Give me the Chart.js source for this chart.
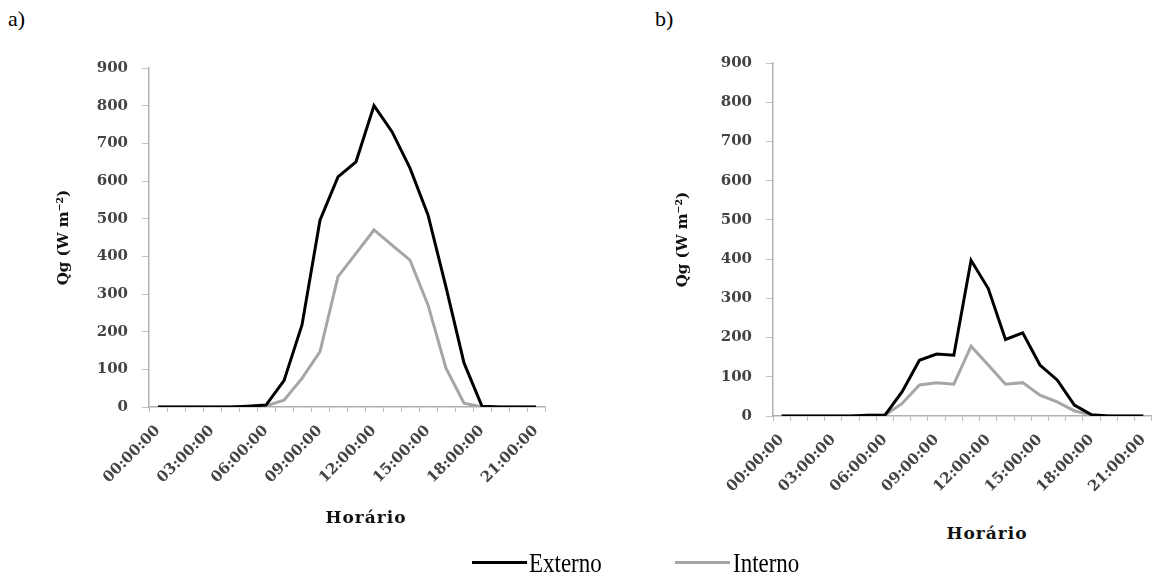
<!DOCTYPE html>
<html>
<head>
<meta charset="utf-8">
<script src="https://cdn.jsdelivr.net/npm/chart.js@4.4.0/dist/chart.umd.min.js"></script>
<style>
    body { margin: 0; background: #fff; }
    #page { position: relative; width: 1166px; height: 576px; overflow: hidden; font-family: "Liberation Serif", serif; }
    .tag { position: absolute; top: 6px; font-size: 22px; line-height: 1.2; color: #000; }
    .box { position: absolute; top: 40px; }
    .xtitle { position: absolute; font-family: "DejaVu Serif", serif; font-weight: bold; font-size: 17px; line-height: 20px; letter-spacing: 1px; color: #111; transform: translateX(-50%); }
    .leg-line { position: absolute; top: 561px; width: 55px; height: 3px; }
    .leg-text { position: absolute; top: 549px; font-size: 28px; line-height: 1; color: #000; transform: scaleX(0.82); transform-origin: left center; }
</style>
</head>
<body>
<div id="page">
    <div class="tag" style="left:8px">a)</div>
    <div class="tag" style="left:655px">b)</div>

    <div class="box" style="left:0px"><canvas id="chartA" width="560" height="480"></canvas></div>
    <div class="box" style="left:600px"><canvas id="chartB" width="566" height="480"></canvas></div>

    <div class="xtitle" style="left:366px; top:507px">Horário</div>
    <div class="xtitle" style="left:987px; top:523px">Horário</div>

    <div class="leg-line" style="left:472px; background:#000"></div>
    <div class="leg-text" style="left:529px">Externo</div>
    <div class="leg-line" style="left:675px; background:#a6a6a6"></div>
    <div class="leg-text" style="left:733px">Interno</div>
</div>

<script>
// hourly categories (00:00 .. 21:00), label shown every 3 hours
const horas = ['00:00:00', '01:00:00', '02:00:00', '03:00:00', '04:00:00', '05:00:00',
    '06:00:00', '07:00:00', '08:00:00', '09:00:00', '10:00:00', '11:00:00',
    '12:00:00', '13:00:00', '14:00:00', '15:00:00', '16:00:00', '17:00:00',
    '18:00:00', '19:00:00', '20:00:00', '21:00:00'];

// a) Qg (W m-2)
const externoA = [0, 0, 0, 0, 0, 2, 5, 70, 218, 496, 611, 651, 800, 731, 634, 510, 318, 117, 2, 0, 0, 0];
const internoA = [0, 0, 0, 0, 0, 2, 3, 18, 76, 147, 346, 408, 470, 430, 390, 271, 103, 10, 0, 0, 0, 0];

// b) Qg (W m-2)
const externoB = [0, 0, 0, 0, 0, 2, 2, 62, 142, 158, 155, 397, 325, 195, 212, 130, 92, 28, 3, 0, 0, 0];
const internoB = [0, 0, 0, 0, 0, 2, 2, 32, 79, 85, 81, 178, 130, 81, 85, 53, 36, 13, 2, 0, 0, 0];

const yTicks = [0, 100, 200, 300, 400, 500, 600, 700, 800, 900];

const tickFont = { family: 'DejaVu Serif', size: 15, weight: 'bold' };

function makeChart(id, externo, interno, geo) {
    const ctx = document.getElementById(id).getContext('2d');
    return new Chart(ctx, {
        type: 'line',
        data: {
            labels: horas,
            datasets: [
                { label: 'Externo', data: externo, borderColor: '#000000', borderWidth: 3, pointRadius: 0, tension: 0 },
                { label: 'Interno', data: interno, borderColor: '#a6a6a6', borderWidth: 3, pointRadius: 0, tension: 0 }
            ]
        },
        options: {
            responsive: false,
            animation: false,
            devicePixelRatio: 1,
            layout: { padding: { top: geo.padTop, right: geo.padRight, left: 0, bottom: 0 } },
            plugins: { legend: { display: false }, tooltip: { enabled: false } },
            scales: {
                x: {
                    offset: true,
                    grid: { offset: true, drawOnChartArea: false, tickLength: 5, color: '#bdbdbd' },
                    border: { color: '#b0b0b0', width: 1.5 },
                    ticks: {
                        autoSkip: false,
                        maxRotation: 45,
                        minRotation: 45,
                        padding: 10,
                        color: '#444',
                        font: tickFont,
                        callback: (val, i) => (i % 3 === 0 ? horas[i] : '')
                    },
                    afterFit: (scale) => { scale.height = geo.xHeight; }
                },
                y: {
                    min: 0,
                    max: 900,
                    afterBuildTicks: (scale) => { scale.ticks = yTicks.map(v => ({ value: v })); },
                    grid: { drawOnChartArea: false, tickLength: 7, color: '#c4c4c4' },
                    border: { color: '#b0b0b0', width: 1.5 },
                    ticks: { padding: 14, color: '#444', font: tickFont },
                    title: {
                        display: true,
                        text: 'Qg (W m⁻²)',
                        color: '#111',
                        font: { family: 'DejaVu Serif', size: 15, weight: 'bold' },
                        padding: { top: geo.titlePad, bottom: 0 }
                    },
                    afterFit: (scale) => { scale.width = geo.yWidth; }
                }
            }
        }
    });
}

makeChart('chartA', externoA, internoA, { padTop: 28, padRight: 15, xHeight: 113, yWidth: 149, titlePad: 55 });
makeChart('chartB', externoB, internoB, { padTop: 22, padRight: 0, xHeight: 104, yWidth: 173, titlePad: 74 });
</script>
</body>
</html>
